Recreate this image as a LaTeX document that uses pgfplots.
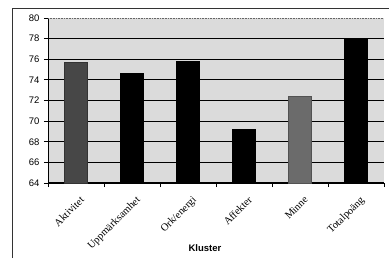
\documentclass[border=0pt]{standalone}
\usepackage{pgfplots}
\pgfplotsset{compat=1.18}
\usepackage{fontspec}
\setmainfont{Liberation Serif}
\newfontfamily\arialfont{Liberation Sans}
\begin{document}
\begin{tikzpicture}[x=1pt,y=1pt]
\useasboundingbox (-48,-75) rectangle (341,183);
\draw[line width=0.8pt, black!80] (-36,-75) -- (-36,175) -- (341,175);
\begin{axis}[
  at={(0,0)}, anchor=south west,
  scale only axis, width=336pt, height=165pt,
  ymin=64, ymax=80,
  xmin=-0.5, xmax=5.5,
  ytick={64,66,...,78},
  extra y ticks={80},
  extra y tick style={ymajorgrids=false},
  ymajorgrids,
  major grid style={line width=1.2pt, black},
  xtick={0,1,2,3,4,5},
  xticklabels={Aktivitet,Uppmärksamhet,Ork/energi,Affekter,Minne,Totalpoäng},
  minor xtick={-0.5,0.5,...,5.5},
  xtick style={draw=none},
  minor x tick style={draw=black, line width=0.6pt},
  minor tick length=4pt,
  major tick length=4pt,
  ytick style={line width=0.8pt, black},
  tick align=outside,
  axis x line*=bottom, axis y line*=left,
  axis line style={-, line width=0.8pt, black},
  axis background/.style={fill=black!14},
  y tick label style={font=\arialfont\fontsize{9.5}{10}\selectfont, xshift=-1pt},
  x tick label style={font=\fontsize{10.5}{11}\selectfont, rotate=45, anchor=north east, xshift=0pt, yshift=-5pt},
  /pgf/number format/assume math mode=true,
  xlabel={\arialfont\bfseries Kluster},
  x label style={at={(axis description cs:0.467,0)}, anchor=center, yshift=-65pt, font=\fontsize{9.5}{10}\selectfont},
  ybar, bar width=23pt, bar shift=0pt,
]
\addplot[fill=black, draw=black] coordinates {(1,74.6) (2,75.8) (3,69.2) (5,78.0)};
\addplot[fill=black!72, draw=black!80] coordinates {(0,75.7)};
\addplot[fill=black!58, draw=black!68] coordinates {(4,72.4)};
\draw[black!60, densely dotted, line width=0.6pt] (rel axis cs:0,1) -- (rel axis cs:1,1) -- (rel axis cs:1,0);
\end{axis}
\end{tikzpicture}
\end{document}
